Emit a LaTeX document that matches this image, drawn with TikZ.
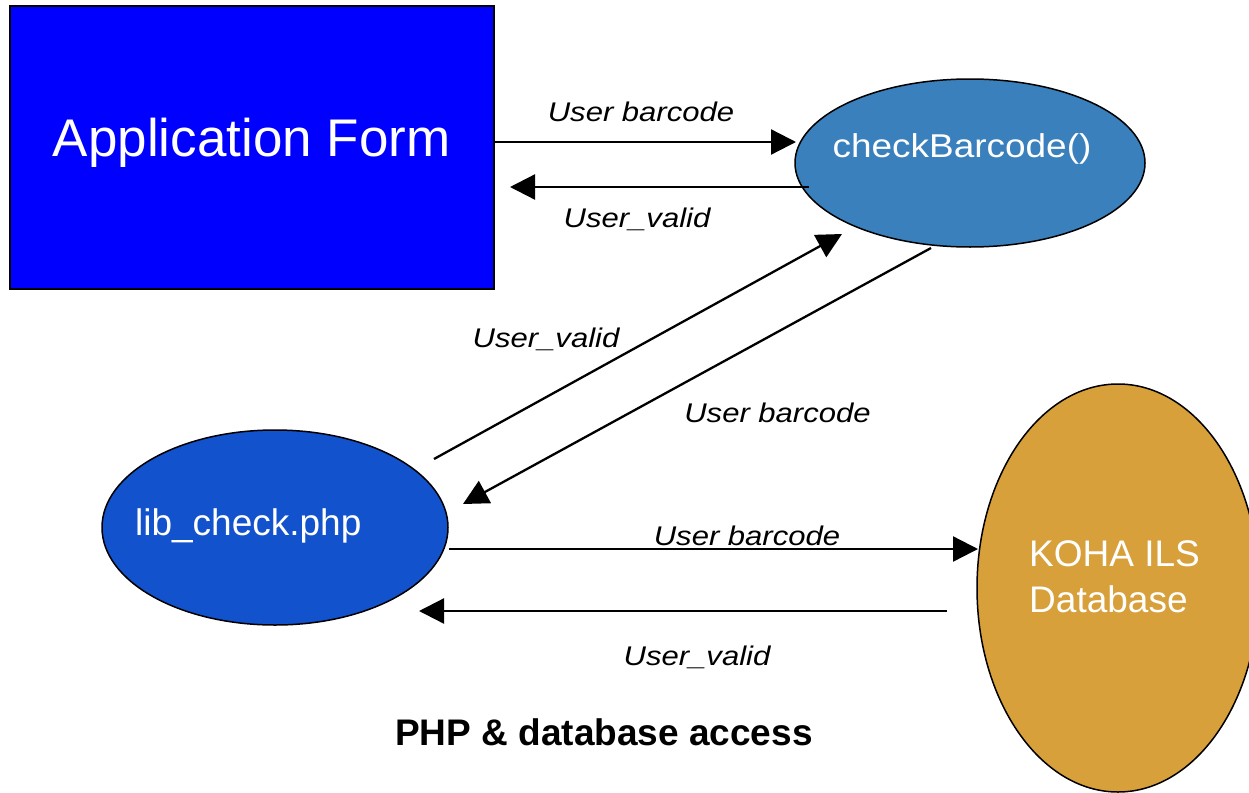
\documentclass[tikz,border=0pt]{standalone}
\usepackage{fontspec}
\usepackage{graphicx}
\setmainfont{Liberation Sans}
\usetikzlibrary{shapes.geometric,arrows.meta}
\definecolor{formblue}{RGB}{0,0,255}
\definecolor{cbblue}{RGB}{58,128,188}
\definecolor{libblue}{RGB}{18,82,204}
\definecolor{kohagold}{RGB}{216,160,58}
\newcommand{\widetxt}[2]{\scalebox{#1}[1]{#2}}
\begin{document}
\begin{tikzpicture}[x=1pt,y=-1pt,
  flow/.style={line width=2.3pt,-{Triangle[length=25pt,width=25pt]}},
  lbl/.style={font=\fontsize{27}{32}\selectfont\itshape, inner sep=0pt, anchor=base},
  bubble/.style={ellipse, draw=black, line width=1.5pt, inner sep=0pt},
  wtext/.style={text=white, inner sep=0pt, anchor=base}]
\useasboundingbox (0,0) rectangle (1249,792);
\fill[white] (0,0) rectangle (1249,792);

% shapes
\node[draw=black, fill=formblue, line width=2pt, minimum width=484pt, minimum height=283pt, inner sep=0pt] (app) at (252,147.5) {};
\node[bubble, fill=cbblue, minimum width=350pt, minimum height=168pt] (cb) at (970,163) {};
\node[bubble, fill=libblue, minimum width=346pt, minimum height=195pt] (lib) at (275,527.5) {};
\node[bubble, fill=kohagold, minimum width=282pt, minimum height=408pt] (koha) at (1118,588) {};

% texts in shapes
\node[wtext, font=\fontsize{53}{60}\selectfont] (apptxt) at (251.7,156.7) {Application Form};
\node[wtext, font=\fontsize{33}{40}\selectfont] (cbtxt) at (962,157.5) {\widetxt{1.12}{checkBarcode()}};
\node[wtext, font=\fontsize{37}{44}\selectfont] (libtxt) at (248.3,535) {lib\_check.php};
\node[wtext, font=\fontsize{37}{44}\selectfont, anchor=base west] (kohatxt1) at (1029,566) {KOHA ILS};
\node[wtext, font=\fontsize{37}{44}\selectfont, anchor=base west] (kohatxt2) at (1029,612) {Database};

% connector end points
\coordinate (a1s) at (494,142);  \coordinate (a1e) at (796,142);
\coordinate (a2s) at (809,187);  \coordinate (a2e) at (510,187);
\coordinate (a3s) at (434,459);  \coordinate (a3e) at (842,234);
\coordinate (a4s) at (931,248);  \coordinate (a4e) at (463,504);
\coordinate (a5s) at (449,549);  \coordinate (a5e) at (978,549);
\coordinate (a6s) at (947,611);  \coordinate (a6e) at (419,611);

\draw[flow] (a1s) -- (a1e);
\draw[flow] (a2s) -- (a2e);
\draw[flow] (a3s) -- (a3e);
\draw[flow] (a4s) -- (a4e);
\draw[flow] (a5s) -- (a5e);
\draw[flow] (a6s) -- (a6e);

% labels
\node[lbl] (l1) at (641,121) {\widetxt{1.15}{User barcode}};
\node[lbl] (l2) at (637,227) {\widetxt{1.15}{User\_valid}};
\node[lbl] (l3) at (546,347.5) {\widetxt{1.15}{User\_valid}};
\node[lbl] (l4) at (777.5,422.5) {\widetxt{1.15}{User barcode}};
\node[lbl] (l5) at (747,545) {\widetxt{1.15}{User barcode}};
\node[lbl] (l6) at (697,665.5) {\widetxt{1.15}{User\_valid}};

% caption
\node[inner sep=0pt, anchor=base, font=\fontsize{37}{44}\selectfont\bfseries] (title) at (604,745.7) {PHP \& database access};
\end{tikzpicture}
\end{document}
